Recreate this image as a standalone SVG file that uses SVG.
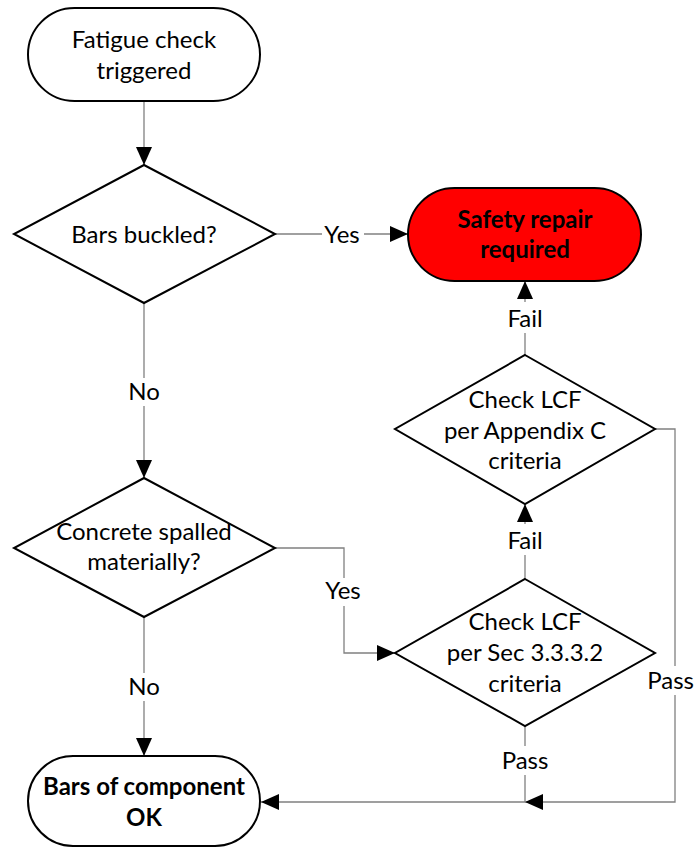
<svg xmlns="http://www.w3.org/2000/svg" width="696" height="848" viewBox="0 0 696 848">
<style>
text{font-family:Lato,"Liberation Sans",sans-serif;font-size:24px;fill:#000;text-anchor:middle}
.b{font-weight:bold}
.node{fill:#fff;stroke:#000;stroke-width:2}
.red{fill:#ff0000}
.conn{fill:none;stroke:#808080;stroke-width:1.3}
.lbg{fill:#fff}
</style>
<defs>
<marker id="ah" markerUnits="userSpaceOnUse" markerWidth="18" markerHeight="16" refX="18" refY="8" orient="auto">
<path d="M0,0 L18,8 L0,16 z" fill="#000"/>
</marker>
</defs>
<g id="connectors">
<path class="conn" d="M144,101 V165" marker-end="url(#ah)"/>
<path class="conn" d="M275,234 H408" marker-end="url(#ah)"/>
<path class="conn" d="M144,303 V478" marker-end="url(#ah)"/>
<path class="conn" d="M275,548 H344 V653 H395" marker-end="url(#ah)"/>
<path class="conn" d="M144,617 V756" marker-end="url(#ah)"/>
<path class="conn" d="M525,579 V504" marker-end="url(#ah)"/>
<path class="conn" d="M525,355 V281" marker-end="url(#ah)"/>
<path class="conn" d="M655,429 H675 V802 H525" marker-end="url(#ah)"/>
<path class="conn" d="M525,726 V802 H261" marker-end="url(#ah)"/>
<rect class="lbg" x="322" y="222" width="42" height="26"/>
<text x="342" y="243">Yes</text>
<rect class="lbg" x="124" y="378" width="40" height="28"/>
<text x="144" y="400">No</text>
<rect class="lbg" x="322" y="578" width="42" height="28"/>
<text x="343" y="599">Yes</text>
<rect class="lbg" x="124" y="673" width="40" height="28"/>
<text x="144" y="695">No</text>
<rect class="lbg" x="504" y="302" width="42" height="31"/>
<text x="525" y="327">Fail</text>
<rect class="lbg" x="504" y="524" width="42" height="31"/>
<text x="525" y="549">Fail</text>
<rect class="lbg" x="648" y="666" width="48" height="29"/>
<text x="694" y="689" style="text-anchor:end">Pass</text>
<rect class="lbg" x="501" y="746" width="48" height="29"/>
<text x="525" y="769">Pass</text>
</g>
<g id="start">
<rect class="node" x="28" y="8" width="232" height="93" rx="46.5"/>
<text x="144" y="48">Fatigue check</text>
<text x="144" y="79">triggered</text>
</g>
<g id="d1">
<polygon class="node" points="144,165 275,234 144,303 14,234"/>
<text x="144" y="243">Bars buckled?</text>
</g>
<g id="repair">
<rect class="node red" x="408" y="188" width="233" height="93" rx="46.5"/>
<text class="b" x="525" y="228">Safety repair</text>
<text class="b" x="525" y="258">required</text>
</g>
<g id="d3">
<polygon class="node" points="525,355 655,429 525,504 395,429"/>
<text x="525" y="408">Check LCF</text>
<text x="525" y="439">per Appendix C</text>
<text x="525" y="469">criteria</text>
</g>
<g id="d2">
<polygon class="node" points="144,478 275,548 144,617 14,548"/>
<text x="144" y="540">Concrete spalled</text>
<text x="144" y="570">materially?</text>
</g>
<g id="d4">
<polygon class="node" points="525,579 655,653 525,726 395,653"/>
<text x="525" y="630">Check LCF</text>
<text x="525" y="661">per Sec 3.3.3.2</text>
<text x="525" y="692">criteria</text>
</g>
<g id="ok">
<rect class="node" x="28" y="756" width="232" height="90" rx="45"/>
<text class="b" x="144" y="795">Bars of component</text>
<text class="b" x="144" y="826">OK</text>
</g>
</svg>
